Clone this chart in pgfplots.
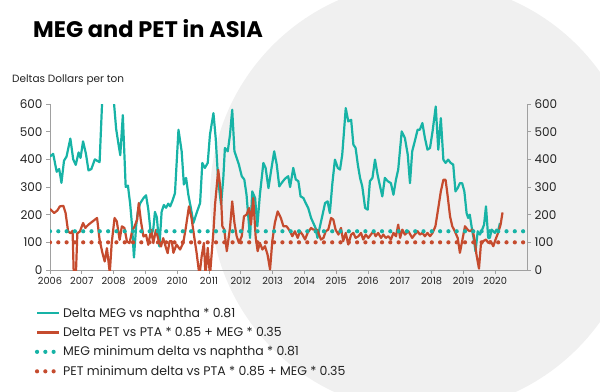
\documentclass[border=0pt]{standalone}
\usepackage{pgfplots}
\pgfplotsset{compat=1.18}
\usepackage{fontspec}
\setmainfont{Poppins}
\definecolor{tealA}{RGB}{23,179,166}
\definecolor{redA}{RGB}{197,75,46}
\definecolor{axgray}{RGB}{160,160,160}
\definecolor{txt}{RGB}{35,35,35}
\begin{document}
\begin{tikzpicture}
\path[use as bounding box] (0,0) rectangle (600bp,392bp);
\begin{scope}
\clip (0,0) rectangle (600bp,392bp);
\fill[black!6] (425bp,195bp) circle (215bp);
\end{scope}
\node[anchor=base west, font=\fontsize{22.5bp}{25bp}\selectfont\bfseries, text=black, inner sep=0pt] at (33bp,354bp) {MEG and PET in ASIA};
\node[anchor=base west, font=\fontsize{10.5bp}{12bp}\selectfont, text=txt, inner sep=0pt] at (12bp,309bp) {Deltas Dollars per ton};
\begin{axis}[
  at={(50bp,122bp)}, anchor=south west, width=477bp, height=166bp, scale only axis,
  xmin=2006, xmax=2021, ymin=0, ymax=600,
  axis x line*=bottom, axis y line*=left,
  axis line style={-, draw=axgray, line width=0.8bp},
  tick style={draw=axgray, line width=0.8bp}, major tick length=4bp, tick align=outside,
  xtick={2006,2007,2008,2009,2010,2011,2012,2013,2014,2015,2016,2017,2018,2019,2020},
  xticklabels={2006,2007,2008,2009,2010,2011,2012,2013,2014,2015,2016,2017,2018,2019,2020},
  ytick={0,100,200,300,400,500,600},
  yticklabels={0,100,200,300,400,500,600},
  xticklabel style={font=\fontsize{9.8bp}{11bp}\selectfont, text=txt},
  yticklabel style={font=\fontsize{12bp}{14bp}\selectfont, text=txt},
  legend style={at={(-0.032,-0.215)}, anchor=north west, draw=none, fill=none,
    font=\fontsize{12.5bp}{15bp}\selectfont, text=txt, row sep=4.5bp, inner sep=0pt},
  legend cell align=left,
  legend image code/.code={\draw[#1] (0bp,0bp) -- (22bp,0bp);},
]
\addplot[tealA, line width=2.2bp, line join=round] coordinates {
(2006.00,410)(2006.10,420)(2006.21,355)(2006.29,365)(2006.36,315)(2006.44,395)(2006.52,410)(2006.64,475)(2006.73,400)(2006.81,380)(2006.90,425)(2006.96,405)(2007.04,465)(2007.13,420)(2007.21,360)(2007.30,365)(2007.41,400)(2007.48,395)(2007.56,390)(2007.64,610)(2007.72,720)(2007.80,760)(2007.90,720)(2008.00,620)(2008.08,510)(2008.16,450)(2008.21,415)(2008.29,560)(2008.38,300)(2008.45,305)(2008.52,240)(2008.58,160)(2008.64,45)(2008.71,160)(2008.76,210)(2008.83,240)(2008.94,260)(2009.02,270)(2009.09,220)(2009.18,120)(2009.25,150)(2009.30,210)(2009.36,190)(2009.44,85)(2009.51,210)(2009.58,235)(2009.65,225)(2009.72,240)(2009.78,230)(2009.85,250)(2009.93,278)(2010.04,507)(2010.14,429)(2010.21,309)(2010.28,333)(2010.35,272)(2010.43,224)(2010.51,170)(2010.61,206)(2010.72,242)(2010.79,387)(2010.87,369)(2010.96,387)(2011.03,489)(2011.14,567)(2011.21,477)(2011.29,321)(2011.38,236)(2011.45,333)(2011.50,441)(2011.59,429)(2011.66,489)(2011.73,579)(2011.80,429)(2011.87,405)(2011.94,381)(2012.03,339)(2012.11,327)(2012.18,272)(2012.29,116)(2012.36,284)(2012.45,260)(2012.52,158)(2012.60,272)(2012.71,387)(2012.78,369)(2012.87,296)(2012.95,357)(2013.05,429)(2013.13,381)(2013.21,302)(2013.28,314)(2013.39,330)(2013.49,339)(2013.55,300)(2013.65,369)(2013.73,327)(2013.81,321)(2013.88,266)(2013.97,260)(2014.04,242)(2014.12,224)(2014.21,188)(2014.28,170)(2014.35,152)(2014.41,116)(2014.49,158)(2014.56,194)(2014.65,242)(2014.73,248)(2014.80,206)(2014.88,314)(2014.96,399)(2015.05,369)(2015.12,363)(2015.19,417)(2015.30,585)(2015.38,537)(2015.47,543)(2015.54,453)(2015.61,441)(2015.68,381)(2015.75,333)(2015.82,302)(2015.91,224)(2015.99,218)(2016.06,321)(2016.14,333)(2016.22,399)(2016.30,345)(2016.38,302)(2016.45,266)(2016.53,333)(2016.62,321)(2016.72,314)(2016.80,272)(2016.88,327)(2016.95,363)(2017.06,501)(2017.16,477)(2017.25,417)(2017.32,314)(2017.39,429)(2017.47,465)(2017.56,507)(2017.63,507)(2017.71,531)(2017.79,477)(2017.87,435)(2017.95,441)(2018.03,501)(2018.13,591)(2018.21,435)(2018.29,549)(2018.37,399)(2018.44,387)(2018.52,399)(2018.60,387)(2018.68,381)(2018.75,284)(2018.82,296)(2018.89,314)(2018.96,314)(2019.03,284)(2019.10,206)(2019.15,188)(2019.20,200)(2019.28,140)(2019.34,103)(2019.38,67)(2019.45,140)(2019.52,128)(2019.59,146)(2019.65,164)(2019.71,230)(2019.78,116)(2019.83,116)(2019.89,146)(2019.94,140)(2019.99,134)(2020.04,146)(2020.09,140)(2020.15,170)
};
\addlegendentry{Delta MEG vs naphtha * 0.81}
\addplot[redA, line width=2.2bp, line join=round] coordinates {
(2006.00,221)(2006.13,206)(2006.23,215)(2006.31,230)(2006.42,232)(2006.49,206)(2006.57,139)(2006.65,133)(2006.71,142)(2006.75,-30)(2006.81,-30)(2006.86,133)(2006.94,139)(2007.04,170)(2007.11,152)(2007.20,163)(2007.30,172)(2007.41,182)(2007.48,188)(2007.56,109)(2007.65,61)(2007.72,31)(2007.79,79)(2007.88,-10)(2007.94,97)(2008.03,188)(2008.10,176)(2008.19,109)(2008.26,158)(2008.34,152)(2008.42,103)(2008.50,97)(2008.58,139)(2008.66,158)(2008.74,182)(2008.79,242)(2008.86,176)(2008.94,121)(2009.02,127)(2009.09,91)(2009.18,145)(2009.25,97)(2009.33,145)(2009.41,109)(2009.49,85)(2009.56,115)(2009.65,79)(2009.70,61)(2009.76,104)(2009.83,104)(2009.88,62)(2009.98,92)(2010.09,74)(2010.19,98)(2010.27,152)(2010.37,230)(2010.45,188)(2010.54,116)(2010.61,62)(2010.70,-20)(2010.77,50)(2010.84,98)(2010.89,-20)(2010.96,80)(2011.03,-20)(2011.14,140)(2011.19,236)(2011.29,362)(2011.37,284)(2011.42,158)(2011.48,146)(2011.56,68)(2011.66,152)(2011.73,248)(2011.80,170)(2011.87,122)(2011.94,98)(2012.03,122)(2012.10,194)(2012.18,200)(2012.26,224)(2012.32,164)(2012.39,260)(2012.47,116)(2012.53,68)(2012.60,98)(2012.68,74)(2012.76,86)(2012.84,56)(2012.92,2)(2012.99,104)(2013.07,170)(2013.16,212)(2013.26,188)(2013.34,158)(2013.44,158)(2013.55,140)(2013.62,122)(2013.70,140)(2013.79,116)(2013.86,140)(2013.94,128)(2014.02,110)(2014.10,134)(2014.21,152)(2014.28,146)(2014.39,146)(2014.44,134)(2014.52,110)(2014.60,116)(2014.67,140)(2014.75,146)(2014.84,188)(2014.91,182)(2014.98,146)(2015.07,128)(2015.15,152)(2015.22,104)(2015.30,134)(2015.38,92)(2015.47,128)(2015.54,134)(2015.61,116)(2015.70,122)(2015.78,134)(2015.85,110)(2015.93,128)(2016.01,116)(2016.09,128)(2016.17,140)(2016.24,122)(2016.32,134)(2016.41,116)(2016.48,128)(2016.56,116)(2016.64,122)(2016.72,110)(2016.80,134)(2016.88,122)(2016.95,164)(2017.01,116)(2017.08,146)(2017.16,128)(2017.27,140)(2017.39,116)(2017.47,128)(2017.56,140)(2017.63,128)(2017.71,134)(2017.79,122)(2017.87,134)(2017.95,122)(2018.03,134)(2018.12,158)(2018.21,224)(2018.29,284)(2018.37,326)(2018.44,326)(2018.50,272)(2018.58,194)(2018.65,158)(2018.73,140)(2018.82,116)(2018.89,62)(2018.96,104)(2019.05,158)(2019.13,146)(2019.20,140)(2019.29,146)(2019.36,104)(2019.41,56)(2019.49,5)(2019.55,92)(2019.62,104)(2019.71,110)(2019.78,98)(2019.86,104)(2019.94,86)(2020.01,110)(2020.09,134)(2020.17,164)(2020.23,208)
};
\addlegendentry{Delta PET vs PTA * 0.85 + MEG * 0.35}
\addplot[tealA, line width=4.2bp, dash pattern=on 0bp off 8.3bp, line cap=round] coordinates {(2006,140)(2021,140)};
\addlegendentry{MEG minimum delta vs naphtha * 0.81}
\addplot[redA, line width=4.2bp, dash pattern=on 0bp off 8.3bp, line cap=round] coordinates {(2006,100)(2021,100)};
\addlegendentry{PET minimum delta vs PTA * 0.85 + MEG * 0.35}
\end{axis}
\begin{axis}[
  at={(50bp,122bp)}, anchor=south west, width=477bp, height=166bp, scale only axis,
  xmin=2006, xmax=2021, ymin=0, ymax=600,
  axis y line*=right, axis x line=none,
  axis line style={-, draw=axgray, line width=0.8bp},
  tick style={draw=axgray, line width=0.8bp}, major tick length=4bp, tick align=outside,
  ytick={0,100,200,300,400,500,600},
  yticklabels={0,100,200,300,400,500,600},
  yticklabel style={font=\fontsize{12bp}{14bp}\selectfont, text=txt},
]
\end{axis}
\end{tikzpicture}
\end{document}
